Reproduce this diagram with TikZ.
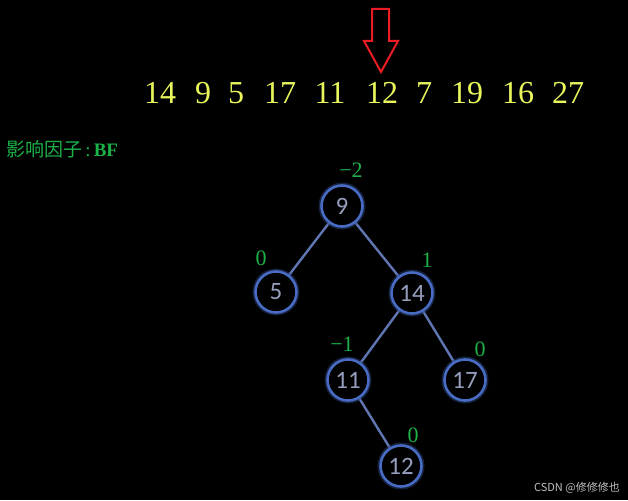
\documentclass[tikz,border=0pt]{standalone}
\usepackage{fontspec}
\setmainfont{Liberation Serif}
\newfontfamily\cjkfont{Noto Sans CJK SC}
\newfontfamily\nodefont{Carlito}
\definecolor{seqyellow}{RGB}{232,246,92}
\definecolor{bfgreen}{RGB}{28,178,72}
\definecolor{ringblue}{RGB}{72,108,196}
\definecolor{edgeblue}{RGB}{96,118,178}
\definecolor{nodetext}{RGB}{150,158,190}
\definecolor{arrowred}{RGB}{236,28,36}
\begin{document}
\begin{tikzpicture}[x=1pt,y=-1pt,
  treenode/.style={circle,draw=ringblue,line width=2.6pt,minimum size=41pt,inner sep=0pt,
    text=nodetext,font=\nodefont\fontsize{25}{25}\selectfont,fill=black,
    preaction={draw=ringblue!60!black,line width=6pt,opacity=0.5}},
  link/.style={draw=edgeblue,line width=2.4pt},
  bf/.style={text=bfgreen,font=\fontsize{22}{22}\selectfont,inner sep=0pt},
  seq/.style={text=seqyellow,font=\fontsize{32}{32}\selectfont,inner sep=0pt}
]
\fill[black] (0,0) rectangle (628,500);
\useasboundingbox (0,0) rectangle (628,500);

% red arrow
\draw[arrowred,line width=2pt,line join=miter]
  (372,9) -- (389,9) -- (389,41) -- (398,41) -- (381,72) -- (364,41) -- (372,41) -- cycle;

% sequence
\foreach \v/\x in {14/160,9/203,5/236,17/280,11/330,12/382,7/424,19/467,16/518,27/568}
  \node[seq] (s\v) at (\x,93) {\v};

% caption
\node[anchor=west,text=bfgreen,inner sep=0pt,font=\fontsize{19}{19}\selectfont] (cap) at (6,149) {{\cjkfont 影响因子}\,:\,\textbf{BF}};

% tree edges
\coordinate (p9) at (342,206);
\coordinate (p5) at (276,292);
\coordinate (p14) at (412,293);
\coordinate (p11) at (348,380);
\coordinate (p17) at (465,380);
\coordinate (p12) at (401,466);
\draw[link] (p9) -- (p5);
\draw[link] (p9) -- (p14);
\draw[link] (p14) -- (p11);
\draw[link] (p14) -- (p17);
\draw[link] (p11) -- (p12);

% nodes
\node[treenode] (n9) at (p9) {9};
\node[treenode] (n5) at (p5) {5};
\node[treenode] (n14) at (p14) {14};
\node[treenode] (n11) at (p11) {11};
\node[treenode] (n17) at (p17) {17};
\node[treenode] (n12) at (p12) {12};

% balance factors
\node[bf] (b9) at (351,170) {\textminus2};
\node[bf] (b5) at (261,258) {0};
\node[bf] (b14) at (427,260) {1};
\node[bf] (b11) at (342,344) {\textminus1};
\node[bf] (b17) at (480,349) {0};
\node[bf] (b12) at (413,435) {0};

% watermark
\node[anchor=east,text=white!75!black,inner sep=0pt,font=\cjkfont\fontsize{11}{11}\selectfont] (wm) at (620,488) {CSDN @修修修也};
\end{tikzpicture}
\end{document}
